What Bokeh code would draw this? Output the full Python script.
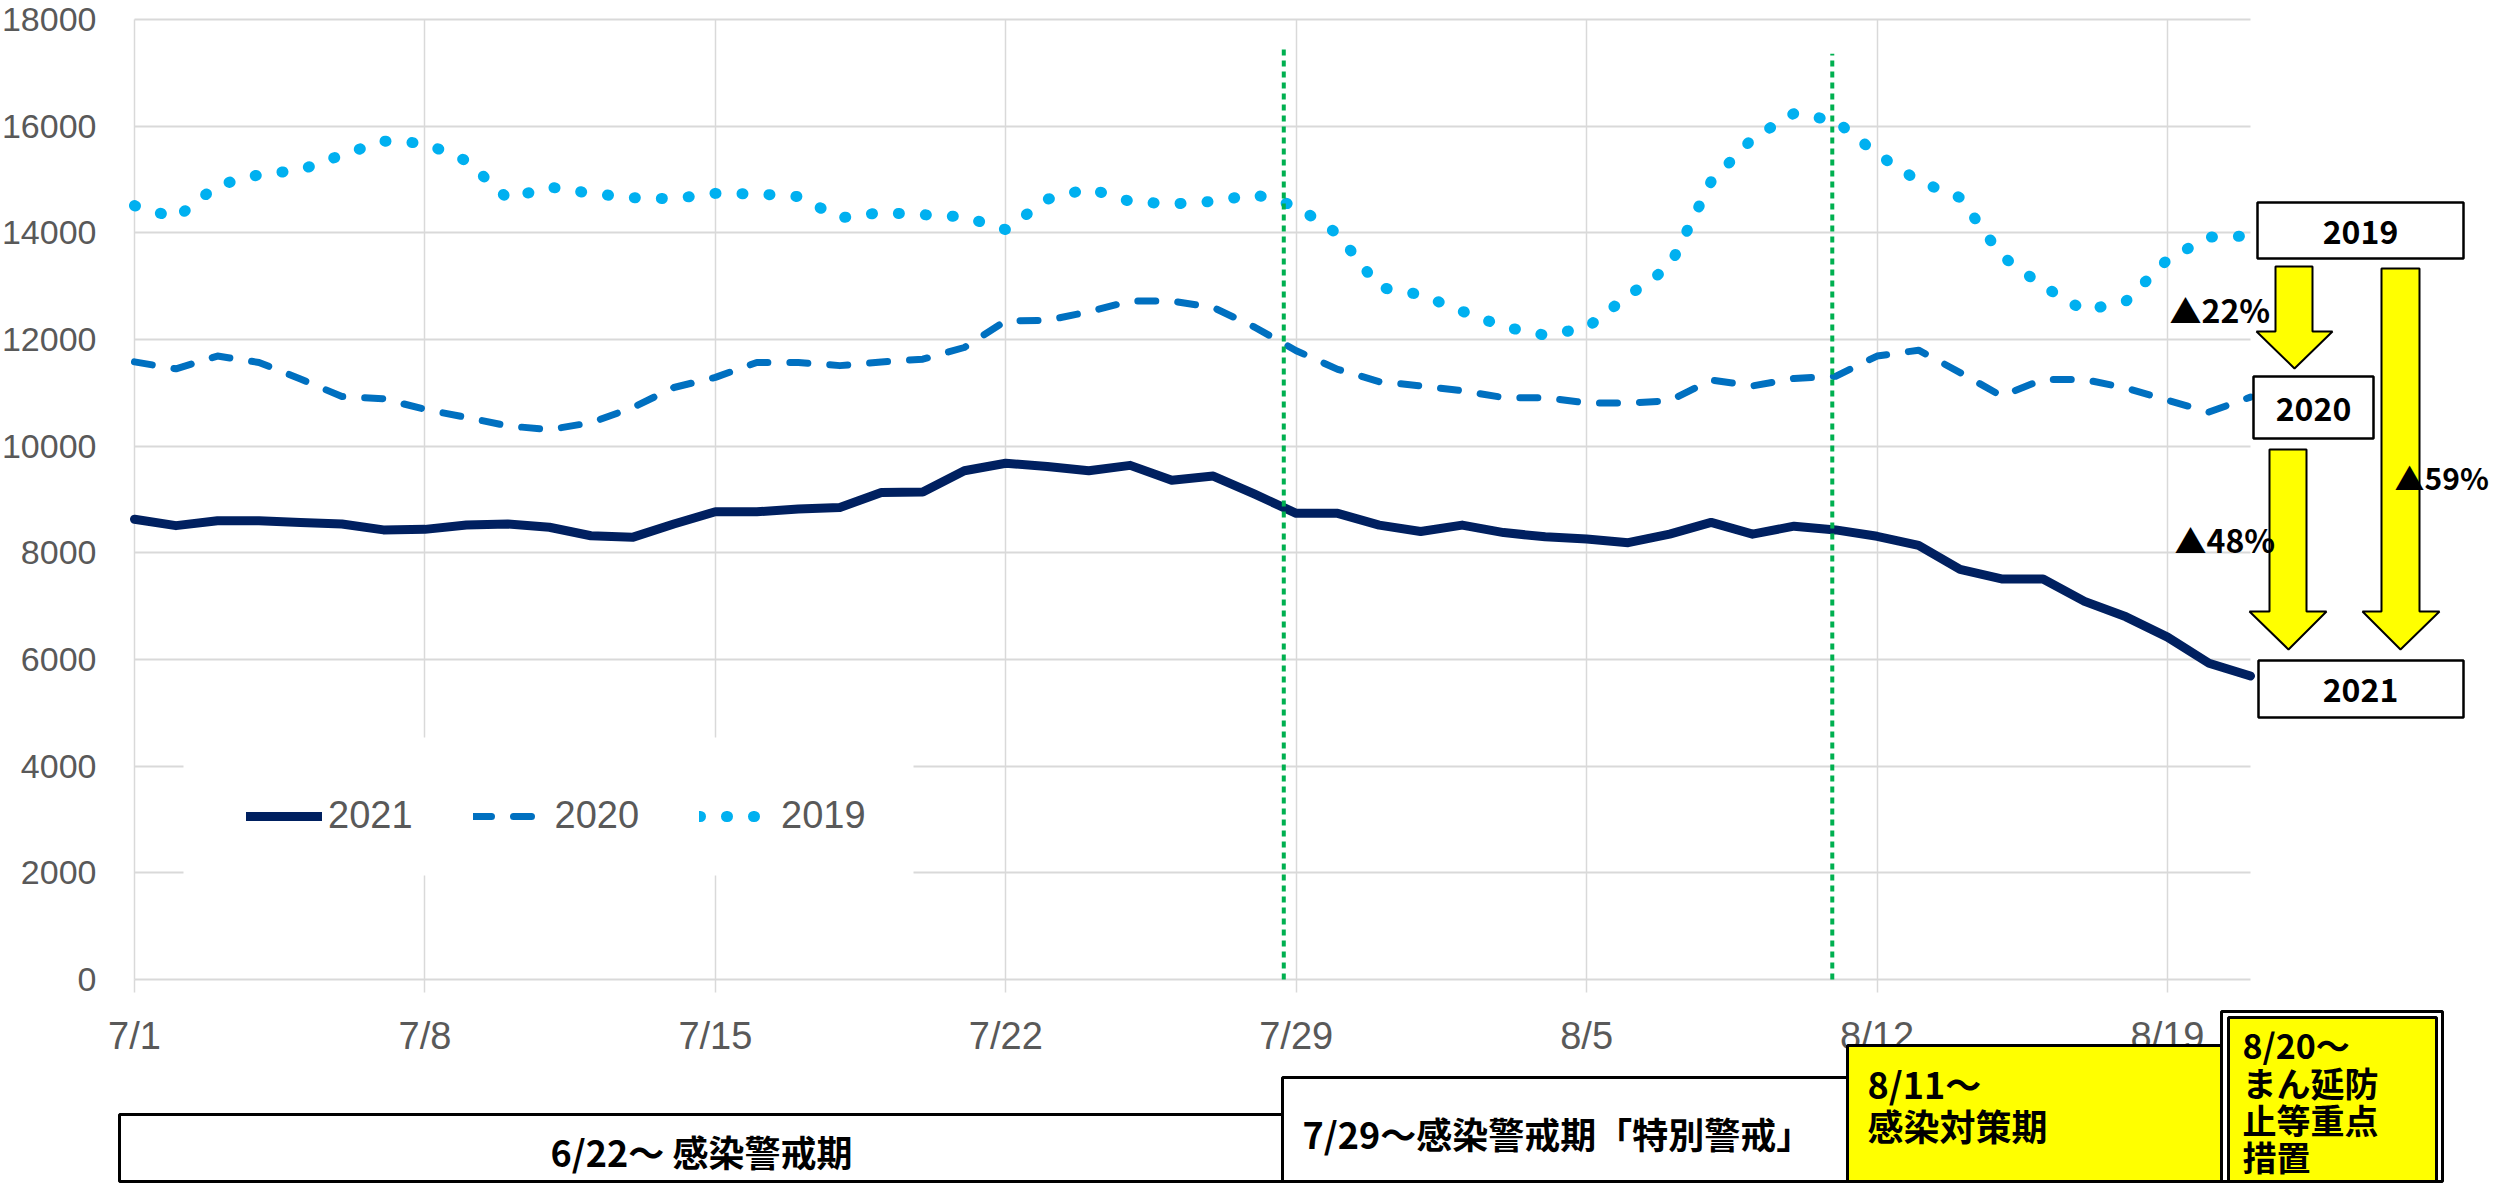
from bokeh.plotting import figure
from bokeh.models import (FixedTicker, BoxAnnotation, PolyAnnotation, Label,
                          Legend, LegendItem, BasicTickFormatter)
from bokeh.embed import file_html
from bokeh.resources import INLINE

# ---------------- data ----------------
tick_days = [0, 7, 14, 21, 28, 35, 42, 49]
tick_labels = ["7/1", "7/8", "7/15", "7/22", "7/29", "8/5", "8/12", "8/19"]
y_ticks = [0, 2000, 4000, 6000, 8000, 10000, 12000, 14000, 16000, 18000]
series_names = ["2021", "2020", "2019"]

v2021 = [8630, 8510, 8600, 8600, 8570, 8540, 8430, 8440, 8520, 8540,
         8480, 8320, 8290, 8540, 8770, 8770, 8820, 8850, 9130, 9140,
         9540, 9680, 9620, 9540, 9640, 9360, 9440, 9100, 8740, 8740,
         8520, 8400, 8520, 8380, 8300, 8260, 8190, 8350, 8570, 8350,
         8500, 8430, 8310, 8140, 7690, 7510, 7510, 7090, 6800, 6420,
         5930, 5690]
v2020 = [11580, 11450, 11690, 11570, 11260, 10930, 10890, 10690, 10540, 10380,
         10310, 10440, 10720, 11100, 11290, 11570, 11570, 11510, 11580, 11630,
         11850, 12350, 12360, 12520, 12720, 12720, 12600, 12230, 11790, 11440,
         11210, 11130, 11040, 10910, 10910, 10810, 10810, 10850, 11240, 11130,
         11270, 11310, 11690, 11800, 11380, 10940, 11250, 11250, 11090, 10860,
         10640, 10920]
v2019 = [14510, 14280, 14890, 15090, 15180, 15460, 15720, 15680, 15350, 14640,
         14860, 14740, 14660, 14640, 14740, 14730, 14680, 14280, 14380, 14340,
         14300, 14060, 14630, 14830, 14590, 14540, 14590, 14720, 14500, 13980,
         12980, 12840, 12530, 12240, 12080, 12220, 12820, 13370, 14960, 15770,
         16240, 16100, 15480, 14970, 14660, 13570, 13000, 12540, 12720, 13500,
         13920, 13940]
days = list(range(len(v2021)))

event_days = [27.70, 40.92]          # green dotted markers (7/29, 8/11)
event_tops = [17510, 17360]

pct_labels = ["▲22%", "▲48%", "▲59%"]
period_texts = ["6/22～ 感染警戒期", "7/29～感染警戒期「特別警戒」",
                "8/11～", "感染対策期",
                "8/20～", "まん延防", "止等重点", "措置"]

# ---------------- layout (page pixels) ----------------
W, H = 2490, 1183
PX0, PX1 = 142, 2258      # page x of first / last day
PY0, PY1 = 987, 27        # page y of 0 / 18000
NDAY = len(days) - 1
YMAX = y_ticks[-1]


def dx(px):
    return (px - PX0) * NDAY / (PX1 - PX0)


def dy(py):
    return (PY0 - py) * YMAX / (PY0 - PY1)


FL, FR, FT, FB = 8, 2498, 8, 1191   # frame edges on the page (whole canvas)

CJK = "Noto Sans CJK JP"
SANS = "Liberation Sans"
GRAY = "#595959"
GRID = "#D9D9D9"

p = figure(width=W, height=H, x_range=(dx(FL), dx(FR)), y_range=(dy(FB), dy(FT)),
           output_backend="svg", toolbar_location=None,
           min_border_left=0, min_border_right=0,
           min_border_top=0, min_border_bottom=0)
p.outline_line_color = None
p.background_fill_color = "white"

p.xaxis.ticker = FixedTicker(ticks=tick_days)
p.xgrid.ticker = FixedTicker(ticks=tick_days)
p.xaxis.major_label_overrides = {d: t for d, t in zip(tick_days, tick_labels)}
p.yaxis.ticker = FixedTicker(ticks=y_ticks)
p.ygrid.ticker = FixedTicker(ticks=y_ticks)
p.yaxis.formatter = BasicTickFormatter(use_scientific=False)
p.xaxis.fixed_location = 0
p.yaxis.fixed_location = 0

for ax in (p.xaxis[0], p.yaxis[0]):
    ax.axis_line_color = None
    ax.minor_tick_line_color = None
    ax.major_label_text_font = SANS
    ax.major_label_text_color = GRAY
p.xaxis.major_label_text_font_size = "38px"
p.yaxis.major_label_text_font_size = "34px"
p.yaxis.major_tick_line_color = None
p.yaxis.major_tick_out = 0
p.yaxis.major_tick_in = 0
p.yaxis.major_label_standoff = 38
p.xaxis.major_tick_line_color = GRID
p.xaxis.major_tick_line_width = 1.5
p.xaxis.major_tick_out = 13
p.xaxis.major_tick_in = 0
p.xaxis.major_label_standoff = 22

p.xgrid.grid_line_color = GRID
p.xgrid.grid_line_width = 1.5
p.xgrid.cross_bounds = (0, YMAX)
p.ygrid.grid_line_color = GRID
p.ygrid.grid_line_width = 2
p.ygrid.cross_bounds = (0, NDAY)

r21 = p.line(days, v2021, line_color="#002060", line_width=9,
             line_cap="round", line_join="round")
r20 = p.line(days, v2020, line_color="#0070C0", line_width=7,
             line_dash="18 22", line_cap="round", line_join="round")
r19 = p.line(days, v2019, line_color="#00B0F0", line_width=11,
             line_dash="1 26", line_cap="round", line_join="round")

p.segment(x0=event_days, y0=[0, 0], x1=event_days, y1=event_tops,
          line_color="#00B050", line_width=4, line_dash="6 5")


def box(l, r, t, b, fill, lw=3, line="black"):
    p.add_layout(BoxAnnotation(left=dx(l), right=dx(r), top=dy(t), bottom=dy(b),
                               fill_color=fill, fill_alpha=1, line_color=line,
                               line_alpha=1, line_width=lw))


def arrow(sl, sr, top, hs, hl, hr, tx, ty):
    pts = [(sl, top), (sr, top), (sr, hs), (hr, hs), (tx, ty), (hl, hs), (sl, hs)]
    p.add_layout(PolyAnnotation(xs=[dx(a) for a, _ in pts], ys=[dy(b) for _, b in pts],
                                fill_color="#FFFF00", fill_alpha=1, line_color="black",
                                line_alpha=1, line_width=2))


def label(text, px, py, size, align="left", baseline="middle", color="black",
          style="bold", font=CJK):
    p.add_layout(Label(x=dx(px), y=dy(py), text=text, text_font=font,
                       text_font_size=f"{size}px", text_font_style=style,
                       text_color=color, text_align=align, text_baseline=baseline))


# white legend panel (hides grid lines behind the legend)
box(191, 921, 745, 883, "white", 0, line=None)

legend = Legend(items=[LegendItem(label=series_names[0], renderers=[r21]),
                       LegendItem(label=series_names[1], renderers=[r20]),
                       LegendItem(label=series_names[2], renderers=[r19])],
                orientation="horizontal", location=(246, 346),
                background_fill_color="white", background_fill_alpha=1,
                border_line_color=None, padding=0, spacing=60, margin=0,
                glyph_width=76, glyph_height=40, label_standoff=6,
                label_text_font=SANS, label_text_font_size="38px",
                label_text_color=GRAY)
p.add_layout(legend)

# bottom period boxes
box(127, 1292, 1122, 1189, "white", 3)
box(1290, 1855, 1085, 1189, "white", 3)
box(1855, 2232, 1053, 1189, "#FFFF00", 3)
box(2229, 2450, 1019, 1189, "white", 3)
box(2236, 2444, 1025, 1189, "#FFFF00", 3)

label(period_texts[0], 709, 1158, 36, align="center")
label(period_texts[1], 1310, 1140, 36)
label(period_texts[2], 1875, 1090, 36)
label(period_texts[3], 1875, 1132, 36)
label(period_texts[4], 2250, 1052, 34)
label(period_texts[5], 2250, 1090, 34)
label(period_texts[6], 2250, 1127, 34)
label(period_texts[7], 2250, 1164, 34)

# right-hand comparison boxes and arrows
box(2265, 2471, 210, 266, "white", 2.5)
box(2261, 2381, 384, 446, "white", 2.5)
box(2266, 2471, 668, 725, "white", 2.5)
label(series_names[2], 2368, 239, 32, align="center")
label(series_names[1], 2321, 416, 32, align="center")
label(series_names[0], 2368, 697, 32, align="center")

arrow(2283, 2320, 274, 339, 2264, 2340, 2302, 376)
arrow(2277, 2314, 457, 619, 2257, 2334, 2296, 657)
arrow(2389, 2427, 276, 619, 2370, 2447, 2408, 657)

label(pct_labels[0], 2177, 316, 32)
label(pct_labels[1], 2182, 546, 32)
label(pct_labels[2], 2402, 484, 30)

open("out.html", "w").write(file_html(p, INLINE))
